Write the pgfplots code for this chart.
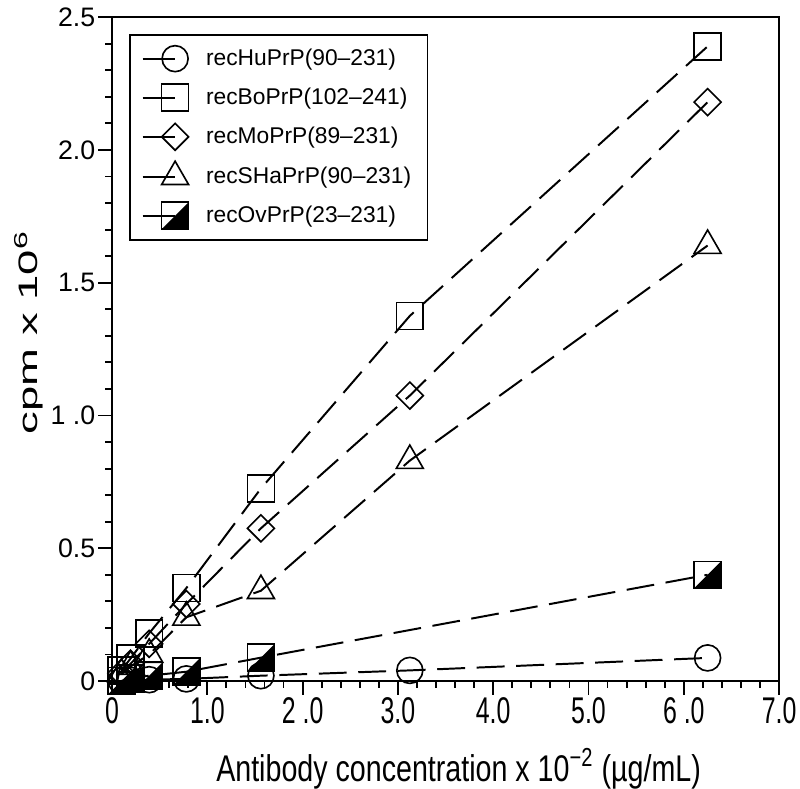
\documentclass[border=0pt]{standalone}
\usepackage{fontspec}
\setmainfont{Liberation Sans}
\newfontfamily\narrowfont[FakeStretch=0.67]{Liberation Sans}
\newfontfamily\labnarrow[FakeStretch=0.77]{Liberation Sans}
\newfontfamily\widefont[FakeStretch=1.7]{Liberation Sans}
\usepackage{pgfplots}
\pgfplotsset{compat=1.18}
\pgfdeclareplotmark{halfsquare}{%
  \pgfpathmoveto{\pgfqpoint{-\pgfplotmarksize}{-\pgfplotmarksize}}%
  \pgfpathlineto{\pgfqpoint{\pgfplotmarksize}{-\pgfplotmarksize}}%
  \pgfpathlineto{\pgfqpoint{\pgfplotmarksize}{\pgfplotmarksize}}%
  \pgfpathclose
  \pgfsetfillcolor{black}\pgfusepathqfill
  \pgfpathrectanglecorners{\pgfqpoint{-\pgfplotmarksize}{-\pgfplotmarksize}}{\pgfqpoint{\pgfplotmarksize}{\pgfplotmarksize}}%
  \pgfusepathqstroke
}
\begin{document}
\begin{tikzpicture}
\begin{axis}[
  scale only axis,
  width=287pt, height=285.6pt,
  xmin=0, xmax=7, ymin=0, ymax=2.5,
  axis line style={line width=0.9pt},
  tick style={line width=0.8pt, black},
  tick align=outside,
  xtick pos=left, ytick pos=left,
  major tick length=6pt, minor tick length=3pt,
  xtick={0,1,2,3,4,5,6,7},
  xticklabels={0,1.0,2 .0,3.0,4.0,5.0,6 .0,7.0},
  ytick={0,0.5,1,1.5,2,2.5},
  yticklabels={0,0.5,1 .0,1.5,2.0,2.5},
  minor x tick num=4, minor y tick num=4,
  xticklabel style={font=\narrowfont\fontsize{16}{18}\selectfont, inner sep=1pt},
  yticklabel style={font=\fontsize{11.5}{13}\selectfont, inner xsep=1pt},
  xlabel={Antibody concentration x 10\textsuperscript{−2} (µg/mL)},
  ylabel={cpm x 10\textsuperscript{6}},
  xlabel style={font=\labnarrow\fontsize{16}{18}\selectfont, at={(axis description cs:0.5195,-0.132)}, anchor=center, inner sep=0pt},
  ylabel style={font=\widefont\fontsize{11.5}{13}\selectfont, at={(axis description cs:-0.125,0.525)}, anchor=center},
  every axis plot/.append style={line width=0.85pt, black, dash pattern=on 12pt off 5pt},
  legend image code/.code={%
    \draw[mark repeat=2,mark phase=2,#1,solid,line width=0.85pt] plot coordinates {(0pt,0pt)(14pt,0pt)};
    \path (24.9pt,0pt);},
  legend style={at={(0.0255,0.975)}, anchor=north west, draw=black, line width=0.8pt,
    font=\fontsize{9.8}{11}\selectfont, row sep=4.2pt, inner xsep=5pt, inner ysep=4pt},
  legend cell align=left,
]
\addplot[mark=o, mark size=5.6pt, mark options={solid, line width=0.7pt}] coordinates {
(0.098,0.0)(0.195,0.003)(0.39,0.005)(0.78,0.008)(1.5625,0.02)(3.125,0.04)(6.25,0.087)};
\addlegendentry{recHuPrP(90–231)}
\addplot[mark=square, mark size=5.8pt, mark options={solid, line width=0.7pt}] coordinates {
(0.098,0.04)(0.195,0.085)(0.39,0.18)(0.78,0.35)(1.5625,0.725)(3.125,1.375)(6.25,2.39)};
\addlegendentry{recBoPrP(102–241)}
\addplot[mark=square, mark size=4.1pt, mark options={solid, rotate=45, line width=0.7pt}] coordinates {
(0.098,0.03)(0.195,0.065)(0.39,0.14)(0.78,0.29)(1.5625,0.575)(3.125,1.075)(6.25,2.18)};
\addlegendentry{recMoPrP(89–231)}
\addplot[mark=triangle, mark size=6.7pt, mark options={solid, line width=0.7pt}] coordinates {
(0.098,0.025)(0.195,0.055)(0.39,0.10)(0.78,0.24)(1.5625,0.34)(3.125,0.83)(6.25,1.64)};
\addlegendentry{recSHaPrP(90–231)}
\addplot[mark=halfsquare, mark size=5.8pt, mark options={solid, line width=0.7pt}] coordinates {
(0.098,0.0)(0.195,0.01)(0.39,0.02)(0.78,0.035)(1.5625,0.088)(6.25,0.40)};
\addlegendentry{recOvPrP(23–231)}
\end{axis}
\path ([shift={(-48.2pt,-44.7pt)}]current axis.south west) rectangle ([shift={(9pt,6pt)}]current axis.north east);
\end{tikzpicture}
\end{document}
